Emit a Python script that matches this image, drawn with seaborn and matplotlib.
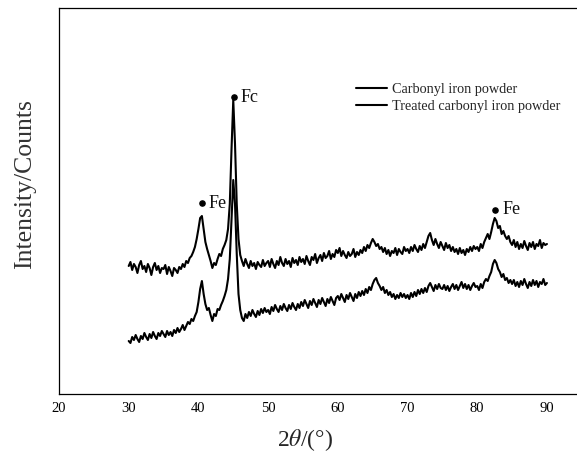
import numpy as np
import pandas as pd
import matplotlib
matplotlib.use("Agg")
import matplotlib.pyplot as plt
import seaborn as sns

# 2theta grid (degrees), 0.25 deg step
two_theta = np.linspace(30, 90, 241)

# intensity (arbitrary units)
carbonyl = [
    128, 132, 124, 130, 127, 121, 129, 133, 125, 128, 122, 130, 126, 119, 127, 131, 124, 128, 121, 126,
    125, 129, 120, 127, 123, 118, 126, 124, 121, 127, 125, 130, 127, 133, 131, 136, 138, 142, 147, 155,
    165, 176, 178, 165, 152, 145, 139, 133, 126, 131, 129, 135, 140, 138, 145, 149, 154, 165, 190, 245,
    294, 250, 190, 155, 139, 133, 128, 135, 130, 126, 133, 128, 131, 125, 132, 129, 127, 134, 128, 131,
    133, 127, 135, 130, 126, 133, 129, 137, 131, 128, 135, 130, 133, 127, 136, 131, 134, 129, 137, 132,
    135, 130, 138, 133, 129, 137, 134, 140, 131, 136, 139, 133, 141, 136, 138, 143, 135, 140, 137, 144,
    141, 146, 138, 143, 139, 136, 142, 138, 140, 145, 137, 142, 139, 144, 141, 147, 143, 149, 146, 151,
    155, 152, 148, 150, 145, 147, 142, 146, 140, 144, 138, 143, 141, 146, 139, 145, 142, 140, 147, 143,
    145, 141, 147, 143, 149, 145, 142, 148, 144, 150, 146, 152, 158, 161, 154, 149, 155, 150, 146, 152,
    148, 144, 151, 146, 149, 143, 147, 142, 145, 140, 146, 141, 144, 139, 145, 142, 147, 143, 148, 145,
    147, 143, 150, 146, 152, 156, 160, 155, 162, 170, 176, 173, 166, 168, 160, 163, 158, 155, 158, 152,
    149, 154, 147, 152, 145, 150, 146, 153, 148, 144, 151, 147, 152, 145, 150, 148, 154, 146, 151, 149,
    150,
]
treated = [
    53, 51, 57, 54, 59, 55, 52, 58, 55, 61, 57, 54, 60, 56, 62, 58, 55, 61, 58, 63,
    60, 57, 63, 59, 62, 58, 64, 61, 66, 62, 65, 69, 64, 68, 72, 70, 75, 73, 78, 82,
    92, 105, 113, 100, 90, 84, 86, 79, 73, 80, 78, 85, 84, 89, 93, 98, 104, 115, 135, 175,
    214, 190, 140, 100, 84, 76, 73, 80, 76, 82, 78, 84, 80, 77, 83, 79, 85, 81, 86, 82,
    84, 80, 87, 83, 89, 85, 82, 88, 84, 90, 86, 83, 89, 85, 91, 87, 84, 90, 86, 92,
    88, 94, 90, 86, 93, 89, 95, 91, 87, 94, 90, 96, 92, 88, 95, 91, 97, 93, 89, 96,
    98, 94, 100, 96, 92, 99, 95, 101, 97, 93, 100, 96, 102, 98, 103, 99, 105, 101, 107, 104,
    110, 114, 116, 111, 108, 104, 107, 101, 104, 99, 102, 97, 100, 95, 99, 96, 101, 97, 100, 96,
    99, 95, 101, 97, 102, 98, 104, 100, 105, 101, 106, 102, 108, 111, 107, 103, 109, 105, 110, 106,
    105, 109, 104, 108, 103, 107, 110, 105, 109, 104, 108, 112, 106, 110, 105, 109, 104, 108, 111, 107,
    108, 104, 110, 106, 112, 115, 113, 118, 122, 130, 134, 131, 125, 122, 117, 120, 114, 116, 111, 114,
    110, 114, 108, 112, 107, 113, 109, 115, 110, 106, 112, 108, 114, 109, 113, 107, 112, 110, 115, 109,
    111,
]

# peak markers
peak_x = [40.5, 45.1, 82.6]
peak_y = [191, 297, 184]
peak_labels = ["Fe", "Fc", "Fe"]

sns.set_style("white")
plt.rcParams["font.family"] = ["Liberation Serif", "DejaVu Serif"]
plt.rcParams["mathtext.fontset"] = "stix"

fig = plt.figure(figsize=(5.77, 4.54), dpi=100)
ax = fig.add_axes([59 / 577, 60 / 454, 522.8 / 577, 386 / 454])

sns.lineplot(x=two_theta, y=carbonyl, ax=ax, color="black", linewidth=1.5,
             label="Carbonyl iron powder")
sns.lineplot(x=two_theta, y=treated, ax=ax, color="black", linewidth=1.5,
             label="Treated carbonyl iron powder")

ax.scatter(peak_x, peak_y, s=14, color="black", zorder=5)
for px, py, lab in zip(peak_x, peak_y, peak_labels):
    ax.text(px + 1.0, py, lab, fontsize=13, va="center", ha="left", color="#111111")

ax.set_xlim(20, 95)
ax.set_ylim(0, 386)
ax.set_xticks(range(20, 91, 10))
ax.set_xticks(range(25, 96, 10), minor=True)
ax.set_yticks([])
ax.tick_params(axis="x", which="major", direction="in", length=4, width=0.8,
               labelsize=10.5, pad=6, colors="black")
ax.tick_params(axis="x", which="minor", direction="in", length=2.5, width=0.8)
for sp in ax.spines.values():
    sp.set_color("black")
    sp.set_linewidth(0.9)
ax.spines["right"].set_visible(False)

ax.set_xlabel(r"2$\theta$/(°)", fontsize=17)
ax.xaxis.set_label_coords(0.47, -0.085)
ax.set_ylabel("Intensity/Counts", fontsize=18.5, color="#333333")
ax.yaxis.set_label_coords(-0.044, 0.544)

ax.legend(loc="upper left", bbox_to_anchor=(0.555, 0.825), frameon=False,
          fontsize=10.3, handlelength=2.17, handletextpad=0.35, borderpad=0,
          labelspacing=0.3)

fig.savefig("out.png", dpi=100)
